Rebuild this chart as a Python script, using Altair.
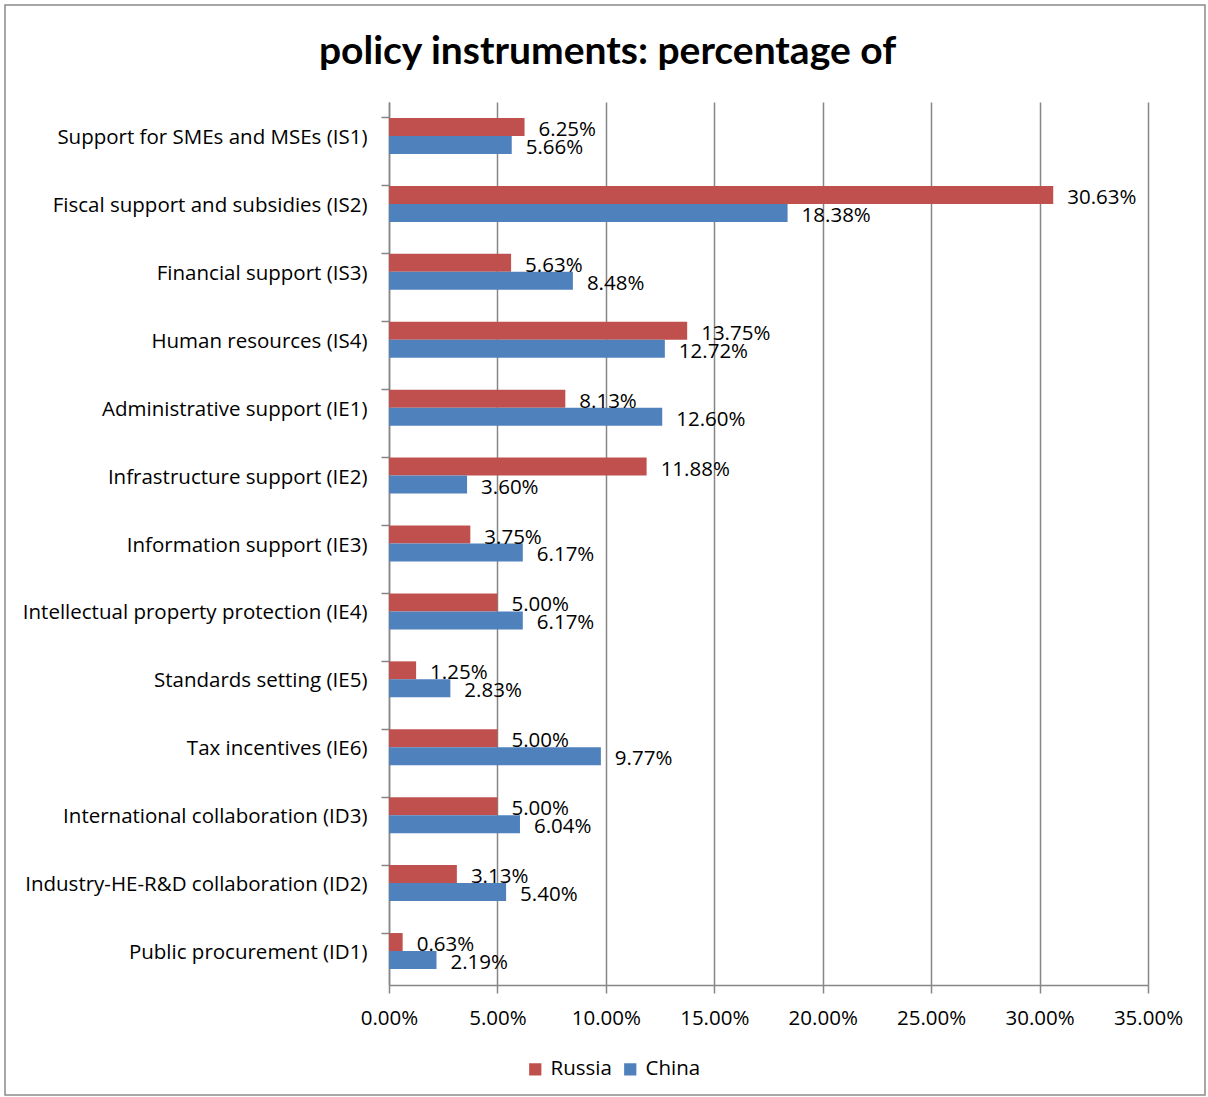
import altair as alt
import pandas as pd

categories = [
    "Support for SMEs and MSEs (IS1)",
    "Fiscal support and subsidies (IS2)",
    "Financial support (IS3)",
    "Human resources (IS4)",
    "Administrative support (IE1)",
    "Infrastructure support (IE2)",
    "Information support (IE3)",
    "Intellectual property protection (IE4)",
    "Standards setting (IE5)",
    "Tax incentives (IE6)",
    "International collaboration (ID3)",
    "Industry-HE-R&D collaboration (ID2)",
    "Public procurement (ID1)",
]
russia = [6.25, 30.63, 5.63, 13.75, 8.13, 11.88, 3.75, 5.00, 1.25, 5.00, 5.00, 3.13, 0.63]
china = [5.66, 18.38, 8.48, 12.72, 12.60, 3.60, 6.17, 6.17, 2.83, 9.77, 6.04, 5.40, 2.19]
series = ["Russia", "China"]
colors = ["#C0504D", "#4F81BD"]
x_ticks = [0, 0.05, 0.10, 0.15, 0.20, 0.25, 0.30, 0.35]

rows = []
for c, r, ch in zip(categories, russia, china):
    rows.append({"category": c, "series": "Russia", "value": r / 100})
    rows.append({"category": c, "series": "China", "value": ch / 100})
df = pd.DataFrame(rows)

FONT = "Open Sans"
FS = 20.5

base = alt.Chart(df)

y_enc = alt.Y(
    "category:N",
    sort=categories,
    title=None,
    scale=alt.Scale(paddingInner=0.47, paddingOuter=0.235),
    axis=alt.Axis(
        bandPosition=0,
        tickSize=8,
        tickColor="#868686",
        tickWidth=1.5,
        domainColor="#868686",
        domainWidth=1.5,
        labelPadding=14,
        labelOffset=2,
        labelFontSize=FS,
        labelFont=FONT,
        labelColor="#000000",
        grid=False,
        labelLimit=500,
    ),
)
yoff = alt.YOffset("series:N", sort=series, scale=alt.Scale(paddingInner=0, paddingOuter=0))

bars = base.mark_bar().encode(
    x=alt.X(
        "value:Q",
        scale=alt.Scale(domain=[0, 0.35], nice=False),
        title=None,
        axis=alt.Axis(
            values=x_ticks,
            format=".2%",
            tickSize=8,
            tickColor="#868686",
            tickWidth=1.5,
            domainColor="#868686",
            domainWidth=1.5,
            grid=True,
            gridColor="#868686",
            gridWidth=1.5,
            labelPadding=15,
            labelFlush=False,
            labelFontSize=FS,
            labelFont=FONT,
            labelColor="#000000",
        ),
    ),
    y=y_enc,
    yOffset=yoff,
    color=alt.Color(
        "series:N",
        sort=series,
        scale=alt.Scale(domain=series, range=colors),
        legend=alt.Legend(
            title=None,
            orient="none",
            direction="horizontal",
            legendX=136,
            legendY=957,
            symbolType="square",
            symbolSize=150,
            symbolStrokeWidth=0,
            labelFontSize=FS,
            labelFont=FONT,
            labelColor="#000000",
            labelOffset=5,
            columnPadding=8,
            padding=0,
        ),
    ),
)

labels = base.mark_text(align="left", baseline="middle", dx=14, dy=3, fontSize=FS, font=FONT, color="#000000").encode(
    x="value:Q",
    y=alt.Y("category:N", sort=categories),
    yOffset=alt.YOffset("series:N", sort=series),
    text=alt.Text("value:Q", format=".2%"),
)

border = alt.Chart(pd.DataFrame({"a": [0]})).mark_rect(fill="transparent", stroke="#8a8a8a", strokeWidth=1.5).encode(
    x=alt.value(-384), x2=alt.value(816), y=alt.value(-97), y2=alt.value(993)
)

chart = alt.layer(bars, labels, border).properties(
    width=759,
    height=883,
    autosize=alt.AutoSizeParams(type="none"),
    padding={"left": 389, "top": 102, "right": 60, "bottom": 112},
    title=alt.TitleParams(
        "policy instruments: percentage of",
        anchor="middle",
        frame="group",
        dx=-161,
        offset=0,
        dy=99,
        baseline="alphabetic",
        fontSize=39,
        font="Lato",
        fontWeight="bold",
        color="#000000",
    ),
).configure_view(stroke=None)

chart.save("out.html", embed_options={"renderer": "svg", "actions": False})
